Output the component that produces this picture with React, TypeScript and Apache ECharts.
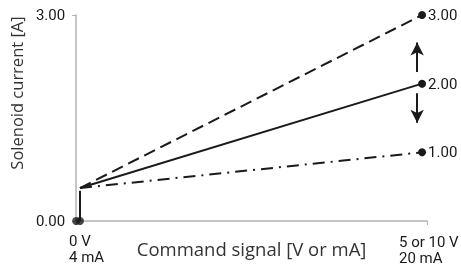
import React, { useEffect, useRef } from "react";
import * as echarts from "echarts";

const xStart = 1.1;
const xEnd = 98.6;
const startCurrent = 0.48;
const endCurrents = [3.0, 2.0, 1.0];
const lineTypes: any[] = [[12, 6], "solid", [12, 6, 2, 6]];
const arrowX = 97.2;
const arrowUp = [2.17, 2.6];
const arrowDown = [1.86, 1.43];
const yTicks = [0, 3];
const xLabelLeft = ["0 V", "4 mA"];
const xLabelRight = ["5 or 10 V", "20 mA"];
const originDots = [[0, 0], [1.1, 0]];

const narrow = "Roboto, 'Liberation Sans', sans-serif";
const humanist = "'Open Sans', 'Noto Sans', sans-serif";
const ink = "#1a1a1a";

export default function App() {
  const ref = useRef<HTMLDivElement>(null);
  useEffect(() => {
    const chart = echarts.init(ref.current!, null, { renderer: "svg" });
    const lineSeries = endCurrents.map((v, i) => ({
      type: "line",
      silent: true,
      lineStyle: { color: ink, width: 2, type: lineTypes[i] },
      symbol: "circle",
      data: [
        { value: [xStart, startCurrent], symbolSize: 0.01 },
        {
          value: [xEnd, v],
          symbolSize: 8,
          label: {
            show: true,
            position: "right",
            distance: 2,
            formatter: v.toFixed(2),
            fontFamily: narrow,
            fontSize: 15,
            color: ink,
          },
        },
      ],
      itemStyle: { color: ink },
      z: 3,
    }));
    chart.setOption({
      animation: false,
      grid: { left: 73, right: 34, top: 15, bottom: 52 },
      xAxis: {
        type: "value",
        min: 0,
        max: 100,
        interval: 100,
        name: "Command signal [V or mA]",
        nameLocation: "middle",
        nameGap: 18,
        nameTextStyle: { fontFamily: humanist, fontSize: 18.5, color: "#333" },
        axisLine: { lineStyle: { color: "#b3b3b3", width: 1.5 } },
        axisTick: { show: true, length: 4, lineStyle: { color: "#b3b3b3" } },
        axisLabel: { show: false },
        splitLine: { show: false },
      },
      yAxis: {
        type: "value",
        min: yTicks[0],
        max: yTicks[1],
        interval: 3,
        name: "Solenoid current [A]",
        nameLocation: "middle",
        nameGap: 46,
        nameTextStyle: {
          fontFamily: humanist,
          fontSize: 16.5,
          color: "#333",
          padding: [0, 0, 0, 50],
        },
        axisLine: { show: true, lineStyle: { color: "#b3b3b3", width: 1.5 } },
        axisTick: { show: true, length: 4, lineStyle: { color: "#b3b3b3" } },
        axisLabel: {
          formatter: (v: number) => v.toFixed(2),
          fontFamily: narrow,
          fontSize: 15,
          color: ink,
          margin: 11,
        },
        splitLine: { show: false },
      },
      graphic: [
        {
          type: "text",
          left: 69,
          top: 233,
          style: {
            text: xLabelLeft.join("\n"),
            font: `15px ${narrow}`,
            fill: ink,
            lineHeight: 16,
          },
        },
        {
          type: "text",
          left: 399,
          top: 234,
          style: {
            text: xLabelRight.join("\n"),
            font: `15px ${narrow}`,
            fill: ink,
            lineHeight: 16,
          },
        },
      ],
      series: [
        ...lineSeries,
        {
          type: "line",
          silent: true,
          symbol: "none",
          lineStyle: { color: ink, width: 2 },
          data: [
            [xStart, 0],
            [xStart, startCurrent - 0.04],
          ],
          z: 3,
        },
        {
          type: "scatter",
          silent: true,
          symbolSize: 8,
          itemStyle: { color: ink },
          data: originDots,
          z: 4,
        },
        {
          type: "line",
          silent: true,
          data: [],
          markLine: {
            silent: true,
            symbol: ["none", "arrow"],
            symbolSize: [10, 13],
            label: { show: false },
            lineStyle: { color: ink, width: 2, type: "solid" },
            data: [
              [
                { coord: [arrowX, arrowUp[0]] },
                { coord: [arrowX, arrowUp[1]] },
              ],
              [
                { coord: [arrowX, arrowDown[0]] },
                { coord: [arrowX, arrowDown[1]] },
              ],
            ],
          },
        },
      ],
    });
    return () => chart.dispose();
  }, []);
  return (
    <div
      ref={ref}
      style={{ width: 461, height: 273, position: "fixed", left: 0, top: 0 }}
    />
  );
}
